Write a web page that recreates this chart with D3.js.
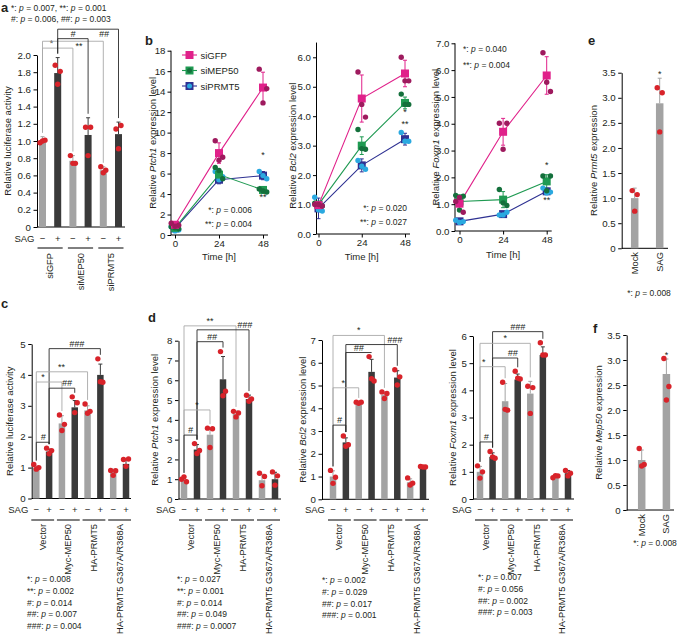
<!DOCTYPE html>
<html><head><meta charset="utf-8">
<script src="https://cdn.jsdelivr.net/npm/d3@7/dist/d3.min.js"></script>
<style>html,body{margin:0;padding:0;background:#fff;} svg{display:block}</style>
</head><body>
<script>
const FONT = "'Liberation Sans', Arial, Helvetica, sans-serif";
const LIGHT = "#a3a3a3", DARK = "#3a3a3a", RED = "#d8232a", BR_G = "#a9a9a9", BR_K = "#2a2a2a", INK = "#231f20";
const JIT = [-2.5, 2.5, 0];

// ---------- shared ----------
const SAG_SIGNS = ["−", "+", "−", "+", "−", "+", "−", "+"];
const TIMES = [0, 24, 48];
const CD_GROUPS = ["Vector", "Myc-MEP50", "HA-PRMT5", "HA-PRMT5 G367A/R368A"];

// ---------- panel a ----------
const aGroups = ["siGFP", "siMEP50", "siPRMT5"];
const aMeans = [1.00, 1.79, 0.77, 1.07, 0.66, 1.08];
const aSD = [0.05, 0.18, 0.06, 0.20, 0.04, 0.14];
const aPts = [[0.98, 1.01, 1.00], [1.88, 1.81, 1.66], [0.83, 0.74, 0.74], [1.16, 1.16, 0.83], [0.70, 0.66, 0.63], [1.14, 1.18, 0.91]];
const aTicks = [0, 0.2, 0.4, 0.6, 0.8, 1.0, 1.2, 1.4, 1.6, 1.8, 2.0];
const aBrackets = [
  {from: 0, to: 2, level: 2.08, label: "*", tone: "g", lx: 0.3, dy: -2},
  {from: 0, to: 4, level: 2.16, label: "**", tone: "g", lx: 0.6, dy: 8},
  {from: 1, to: 3, level: 2.19, label: "#", tone: "k", lx: 0.5, dy: -2},
  {from: 1, to: 5, level: 2.30, label: "##", tone: "k", lx: 0.76, dy: 8}
];
const aPText = [[["*", "0.007"], ["**", "0.001"]], [["#", "0.006"], ["##", "0.003"]]];

// ---------- panel b ----------
const bSeries = ["siGFP", "siMEP50", "siPRMT5"];
const ptch1GFP = [1.0, 8.0, 14.4], ptch1GFPsd = [0.25, 1.0, 1.5], ptch1GFPpts = [[1.15, 0.95, 0.85], [9.2, 7.6, 7.3], [16.2, 14.3, 12.9]];
const ptch1MEP = [0.7, 5.9, 4.4], ptch1MEPsd = [0.2, 0.5, 0.15], ptch1MEPpts = [[0.8, 0.6, 0.7], [6.6, 5.5, 6.3], [4.5, 4.2, 4.3]];
const ptch1PRM = [0.65, 5.4, 5.8], ptch1PRMsd = [0.2, 0.4, 0.4], ptch1PRMpts = [[0.8, 0.5, 0.4], [6.2, 5.7, 5.4], [6.2, 5.5, 5.8]];
const ptch1Ticks = [0, 2, 4, 6, 8, 10, 12, 14, 16, 18];
const ptch1Stars = [["*", 48, 7.5], ["**", 48, 3.4]];
const ptch1PText = [[["*", "0.006"]], [["**", "0.004"]]];

const bcl2GFP = [0.98, 4.6, 5.45], bcl2GFPsd = [0.1, 0.8, 0.45], bcl2GFPpts = [[1.0, 0.95, 1.0], [5.5, 3.97, 4.4], [6.0, 5.2, 5.2]];
const bcl2MEP = [1.0, 3.0, 4.45], bcl2MEPsd = [0.1, 0.3, 0.2], bcl2MEPpts = [[1.05, 0.95, 1.0], [3.55, 2.88, 2.9], [4.75, 4.4, 4.4]];
const bcl2PRM = [0.87, 2.33, 3.22], bcl2PRMsd = [0.35, 0.22, 0.2], bcl2PRMpts = [[1.25, 0.78, 0.82], [2.5, 2.2, 2.3], [3.45, 3.15, 3.15]];
const bcl2Ticks = [0, 1, 2, 3, 4, 5, 6];
const bcl2Stars = [["*", 48, 4.05], ["**", 48, 3.62]];
const bcl2PText = [[["*", "0.020"]], [["**", "0.027"]]];

const foxGFP = [1.02, 3.7, 5.8], foxGFPsd = [0.2, 0.5, 0.7], foxGFPpts = [[1.1, 0.7, 1.25], [4.02, 4.02, 3.05], [6.65, 5.2, 5.55]];
const foxMEP = [1.1, 1.17, 1.85], foxMEPsd = [0.25, 0.3, 0.25], foxMEPpts = [[1.33, 1.3, 0.78], [1.55, 0.95, 1.05], [2.05, 2.05, 1.5]];
const foxPRM = [0.36, 0.63, 1.48], foxPRMsd = [0.05, 0.05, 0.1], foxPRMpts = [[0.4, 0.35, 0.32], [0.6, 0.7, 0.6], [1.6, 1.45, 1.42]];
const foxTicks = [0, 1, 2, 3, 4, 5, 6, 7];
const foxStars = [["*", 48, 2.35], ["**", 48, 1.05]];
const foxPText = [[["*", "0.040"]], [["**", "0.004"]]];

// ---------- panel c ----------
const cMeans = [1.0, 1.52, 2.43, 2.95, 2.85, 4.0, 0.87, 1.12];
const cSD = [0.05, 0.08, 0.25, 0.22, 0.15, 0.35, 0.08, 0.14];
const cPts = [[1.1, 1.0, 0.95], [1.63, 1.55, 1.45], [2.7, 2.4, 2.2], [3.29, 3.1, 2.78], [3.06, 2.82, 2.76], [4.52, 3.76, 3.78], [0.91, 0.9, 0.75], [1.26, 1.28, 1.04]];
const cTicks = [0, 1, 2, 3, 4, 5];
const cBrackets = [
  {from: 1, to: 5, level: 4.85, label: "###", tone: "k", lx: 0.54},
  {from: 0, to: 4, level: 4.10, label: "**", tone: "g", lx: 0.49},
  {from: 0, to: 2, level: 3.77, label: "*", tone: "g", lx: 0.26},
  {from: 1, to: 3, level: 3.57, label: "##", tone: "k", lx: 0.7},
  {from: 0, to: 1, level: 1.82, label: "#", tone: "k", lx: 0.55}
];
const cPText = [[["*", "0.008"]], [["**", "0.002"]], [["#", "0.014"]], [["##", "0.007"]], [["###", "0.004"]]];

// ---------- panel d ----------
const dPtchMeans = [1.0, 2.5, 3.25, 6.05, 4.3, 5.05, 0.95, 1.0];
const dPtchSD = [0.1, 0.25, 0.3, 1.15, 0.15, 0.2, 0.3, 0.35];
const dPtchPts = [[1.0, 0.87, 1.12], [2.8, 2.45, 2.3], [3.58, 3.55, 2.6], [7.45, 5.45, 5.22], [4.43, 4.35, 4.15], [5.24, 5.05, 4.94], [1.3, 1.14, 0.67], [1.37, 1.17, 0.7]];
const dPtchTicks = [0, 1, 2, 3, 4, 5, 6, 7, 8];
const dPtchBrackets = [
  {from: 0, to: 4, level: 8.75, label: "**", tone: "g", lx: 0.5},
  {from: 1, to: 5, level: 8.55, label: "###", tone: "k", lx: 0.92},
  {from: 1, to: 3, level: 7.95, label: "##", tone: "k", lx: 0.58},
  {from: 0, to: 2, level: 4.5, label: "*", tone: "g", lx: 0.5},
  {from: 0, to: 1, level: 3.23, label: "#", tone: "k", lx: 0.5}
];
const dPtchPText = [[["*", "0.027"]], [["**", "0.001"]], [["#", "0.014"]], [["##", "0.049"]], [["###", "0.0007"]]];

const dBclMeans = [1.0, 2.5, 4.25, 5.6, 4.6, 5.35, 0.75, 1.4];
const dBclSD = [0.25, 0.2, 0.03, 0.55, 0.12, 0.3, 0.15, 0.03];
const dBclPts = [[1.27, 0.97, 0.7], [2.78, 2.4, 2.33], [4.27, 4.27, 4.22], [6.27, 5.2, 5.3], [4.72, 4.65, 4.43], [5.69, 5.38, 5.02], [0.94, 0.71, 0.63], [1.44, 1.42, 1.42]];
const dBclTicks = [0, 1, 2, 3, 4, 5, 6, 7];
const dBclBrackets = [
  {from: 0, to: 4, level: 7.2, label: "*", tone: "g", lx: 0.5},
  {from: 1, to: 5, level: 6.8, label: "###", tone: "k", lx: 0.95},
  {from: 1, to: 3, level: 6.45, label: "##", tone: "k", lx: 0.5},
  {from: 0, to: 2, level: 4.9, label: "*", tone: "g", lx: 0.4},
  {from: 0, to: 1, level: 3.26, label: "#", tone: "k", lx: 0.5}
];
const dBclPText = [[["*", "0.002"]], [["#", "0.029"]], [["##", "0.017"]], [["###", "0.001"]]];

const dFoxMeans = [1.0, 1.55, 3.6, 4.4, 3.88, 5.3, 0.82, 0.95];
const dFoxSD = [0.2, 0.15, 0.65, 0.2, 0.45, 0.3, 0.04, 0.1];
const dFoxPts = [[1.22, 1.0, 0.77], [1.75, 1.5, 1.55], [4.3, 3.27, 3.3], [4.7, 4.42, 4.45], [4.15, 4.1, 3.15], [5.75, 5.3, 5.3], [0.78, 0.85, 0.86], [1.05, 0.95, 0.85]];
const dFoxTicks = [0, 1, 2, 3, 4, 5, 6];
const dFoxBrackets = [
  {from: 1, to: 5, level: 6.16, label: "###", tone: "k", lx: 0.5},
  {from: 0, to: 4, level: 5.73, label: "*", tone: "g", lx: 0.5},
  {from: 1, to: 3, level: 5.19, label: "##", tone: "k", lx: 0.8},
  {from: 0, to: 2, level: 4.87, label: "*", tone: "g", lx: 0.15},
  {from: 0, to: 1, level: 2.1, label: "#", tone: "k", lx: 0.5}
];
const dFoxPText = [[["*", "0.007"]], [["#", "0.056"]], [["##", "0.002"]], [["###", "0.003"]]];

// ---------- panels e, f ----------
const efCats = ["Mock", "SAG"];
const eMeans = [1.0, 2.89], eSD = [0.2, 0.5], ePts = [[1.15, 1.07, 0.74], [3.2, 3.1, 2.32]];
const fMeans = [1.0, 2.72], fSD = [0.2, 0.3], fPts = [[1.23, 0.91, 0.88], [3.03, 2.47, 2.2]];
const efTicks = [0, 0.5, 1.0, 1.5, 2.0, 2.5, 3.0, 3.5];
const efPText = [[["*", "0.008"]]];

// =====================================================
const svg = d3.select("body").append("svg").attr("width", 679).attr("height", 636)
  .attr("font-family", FONT).attr("fill", INK);

function styleAxis(s) {
  s.select(".domain").attr("stroke", "#000").attr("stroke-width", 1);
  s.selectAll(".tick line").attr("stroke", "#000");
  s.selectAll(".tick text").attr("font-size", 9.7).attr("font-family", FONT).attr("fill", INK);
}
function yLabel(g, x, yc, parts, size) {
  const t = g.append("text").attr("transform", `translate(${x},${yc}) rotate(-90)`)
    .attr("text-anchor", "middle").attr("dominant-baseline", "central").attr("font-size", size || 9.5);
  parts.forEach(p => t.append("tspan").attr("font-style", p[1] ? "italic" : "normal").text(p[0]));
}
function pLines(g, x, y0, dy, lines, anchor, size) {
  lines.forEach((items, r) => {
    const t = g.append("text").attr("x", x).attr("y", y0 + r * dy).attr("font-size", size || 8.5)
      .attr("text-anchor", anchor || "start");
    items.forEach((it, i) => {
      if (i > 0) t.append("tspan").text(", ");
      t.append("tspan").text(it[0] + ": ");
      t.append("tspan").attr("font-style", "italic").text("p");
      t.append("tspan").text(" = " + it[1]);
    });
  });
}
function letter(x, y, s) {
  svg.append("text").attr("x", x).attr("y", y).attr("font-size", 13).attr("font-weight", "bold").text(s);
}

function barPanel(c) {
  const g = svg.append("g");
  const n = c.means.length, idx = d3.range(n);
  const y = d3.scaleLinear().domain([0, c.max]).range([c.bottom, c.top]);
  const x = d3.scaleLinear().domain([0, n - 1]).range([c.first, c.last]);
  const tone = i => c.tones ? c.tones[i] : (i % 2 ? DARK : LIGHT);
  g.append("g").attr("transform", `translate(${c.axisX},0)`)
    .call(d3.axisLeft(y).tickValues(c.ticks).tickFormat(c.fmt).tickSizeInner(3.5).tickSizeOuter(0).tickPadding(2.5))
    .call(styleAxis);
  g.append("line").attr("x1", c.axisX).attr("x2", c.axisEnd).attr("y1", y(0)).attr("y2", y(0)).attr("stroke", "#000");
  g.selectAll("rect.bar").data(idx).join("rect").attr("class", "bar")
    .attr("x", i => x(i) - c.bw / 2).attr("width", c.bw)
    .attr("y", i => y(c.means[i])).attr("height", i => y(0) - y(c.means[i])).attr("fill", tone);
  idx.forEach(i => {
    const yt = y(c.means[i] + c.sd[i]);
    g.append("line").attr("x1", x(i)).attr("x2", x(i)).attr("y1", y(c.means[i])).attr("y2", yt).attr("stroke", tone(i));
    g.append("line").attr("x1", x(i) - 2).attr("x2", x(i) + 2).attr("y1", yt).attr("y2", yt).attr("stroke", tone(i));
  });
  const tops = idx.map(i => y(Math.max(c.means[i] + c.sd[i], ...c.pts[i])) - 4);
  (c.brackets || []).forEach(b => {
    const ly = y(b.level), x1 = x(b.from), x2 = x(b.to);
    g.append("path").attr("d", `M${x1},${tops[b.from]}V${ly}H${x2}V${tops[b.to]}`)
      .attr("fill", "none").attr("stroke", b.tone === "k" ? BR_K : BR_G).attr("stroke-width", 0.9);
    g.append("text").attr("x", x1 + (x2 - x1) * b.lx).attr("y", ly + (b.dy === undefined ? -2 : b.dy))
      .attr("text-anchor", "middle").attr("font-size", 9)
      .attr("font-style", b.label[0] === "#" ? "italic" : "normal").text(b.label);
  });
  if (c.star) {
    const i = c.star;
    g.append("text").attr("x", x(i)).attr("y", y(Math.max(c.means[i] + c.sd[i], ...c.pts[i])) - 1)
      .attr("text-anchor", "middle").attr("font-size", 9).text("*");
  }
  idx.forEach(i => c.pts[i].forEach((v, k) =>
    g.append("circle").attr("cx", x(i) + JIT[k]).attr("cy", y(v)).attr("r", 2.7).attr("fill", RED)));
  if (c.sagY) {
    g.append("text").attr("x", x(0) - 8).attr("y", c.sagY).attr("text-anchor", "end").attr("font-size", 9.5).text("SAG");
    idx.forEach(i => g.append("text").attr("x", x(i)).attr("y", c.sagY).attr("text-anchor", "middle")
      .attr("font-size", 9.5).text(SAG_SIGNS[i]));
  }
  if (c.groups) {
    c.groups.forEach((name, k) => {
      const xa = x(2 * k), xb = x(2 * k + 1);
      g.append("line").attr("x1", xa - 5).attr("x2", xb + 5).attr("y1", c.groupLineY).attr("y2", c.groupLineY).attr("stroke", "#000");
      g.append("text").attr("transform", `translate(${(xa + xb) / 2},${c.groupLabelY}) rotate(-90)`)
        .attr("text-anchor", "end").attr("dominant-baseline", "central").attr("font-size", 9.3).text(name);
    });
  }
  if (c.cats) {
    c.cats.forEach((name, i) => g.append("text").attr("transform", `translate(${x(i)},${c.catY}) rotate(-90)`)
      .attr("text-anchor", "end").attr("dominant-baseline", "central").attr("font-size", 9.3).text(name));
  }
  yLabel(g, c.ylabelX, (c.top + c.bottom) / 2, c.ylabel);
  if (c.pText) pLines(g, c.pX, c.pY, c.pDy || 11.8, c.pText, c.pAnchor);
}

function linePanel(c) {
  const g = svg.append("g");
  const y = d3.scaleLinear().domain([0, c.max]).range([c.bottom, c.top]);
  const x = d3.scaleLinear().domain([0, 48]).range([c.x0, c.x48]);
  g.append("g").attr("transform", `translate(${c.axisX},0)`)
    .call(d3.axisLeft(y).tickValues(c.ticks).tickSizeInner(3.5).tickSizeOuter(0).tickPadding(2))
    .call(styleAxis).call(s => s.select(".domain").remove());
  g.append("line").attr("x1", c.axisX).attr("x2", c.axisX).attr("y1", y(0)).attr("y2", y(c.axisTop || c.max)).attr("stroke", "#000");
  g.append("g").attr("transform", `translate(0,${y(0)})`)
    .call(d3.axisBottom(x).tickValues(TIMES).tickSizeInner(3.5).tickSizeOuter(0).tickPadding(2))
    .call(styleAxis).call(s => s.select(".domain").remove());
  g.append("line").attr("x1", c.axisX).attr("x2", x(48) + 5).attr("y1", y(0)).attr("y2", y(0)).attr("stroke", "#000");
  g.append("text").attr("x", x(24)).attr("y", c.timeY).attr("text-anchor", "middle").attr("font-size", 9.5).text("Time [h]");
  yLabel(g, c.ylabelX, (c.top + c.bottom) / 2, c.ylabel);
  const order = [2, 1, 0];
  const line = d3.line().x((d, i) => x(TIMES[i])).y(d => y(d));
  order.forEach(s => {
    const S = c.series[s];
    g.append("path").attr("d", line(S.m)).attr("fill", "none").attr("stroke", S.col).attr("stroke-width", 1.1);
    S.m.forEach((v, i) => {
      const xx = x(TIMES[i]);
      g.append("line").attr("x1", xx).attr("x2", xx).attr("y1", y(v - S.sd[i])).attr("y2", y(v + S.sd[i])).attr("stroke", S.col);
      [v - S.sd[i], v + S.sd[i]].forEach(e => g.append("line").attr("x1", xx - 2).attr("x2", xx + 2).attr("y1", y(e)).attr("y2", y(e)).attr("stroke", S.col));
    });
  });
  order.forEach(s => {
    const S = c.series[s];
    S.m.forEach((v, i) => g.append("rect").attr("x", x(TIMES[i]) - 4).attr("y", y(v) - 4).attr("width", 8).attr("height", 8).attr("fill", S.col));
    S.pts.forEach((arr, i) => arr.forEach((v, k) => g.append("circle").attr("cx", x(TIMES[i]) + JIT[k] * 1.5).attr("cy", y(v)).attr("r", 2.7).attr("fill", S.dot)));
  });
  c.stars.forEach(st => g.append("text").attr("x", x(st[1])).attr("y", y(st[2])).attr("text-anchor", "middle").attr("font-size", 9).text(st[0]));
  pLines(g, c.pX, c.pY, c.pDy, c.pText, c.pAnchor);
  if (c.legend) {
    c.series.forEach((S, k) => {
      const ly = c.legendY + k * 15.5;
      g.append("line").attr("x1", c.legendX - 7.5).attr("x2", c.legendX + 7.5).attr("y1", ly).attr("y2", ly).attr("stroke", S.col).attr("stroke-width", 1.1);
      g.append("rect").attr("x", c.legendX - 4).attr("y", ly - 4).attr("width", 8).attr("height", 8).attr("fill", S.col);
      if (k > 0) g.append("circle").attr("cx", c.legendX).attr("cy", ly).attr("r", 2.5).attr("fill", S.dot);
      g.append("text").attr("x", c.legendX + 11).attr("y", ly).attr("dominant-baseline", "central").attr("font-size", 9.5).text(bSeries[k]);
    });
  }
}

const COL = {gfp: "#e0218a", gfpDot: "#9e1a5e", mep: "#1f9a52", mepDot: "#14703c", prm: "#2e3192", prmDot: "#2aa9e0"};
const mk = (m, sd, pts, col, dot) => ({m, sd, pts, col, dot});
const fmt1 = d => d === 0 ? "0" : d.toFixed(1);
const fmt0 = d => String(d);

// letters
letter(1, 12, "a"); letter(145, 45, "b"); letter(1, 308, "c"); letter(148, 322, "d"); letter(588, 45, "e"); letter(593, 333, "f");

// panel a
pLines(svg, 11, 11, 11, aPText, "start", 8.5);
barPanel({axisX: 37, top: 55, bottom: 227, max: 2.0, ticks: aTicks, fmt: fmt1, first: 42.5, last: 118.5, bw: 7, axisEnd: 125,
  means: aMeans, sd: aSD, pts: aPts, brackets: aBrackets, sagY: 242, groups: aGroups, groupLineY: 248, groupLabelY: 253,
  ylabel: [["Relative luciferase activity", false]], ylabelX: 7});

// panel b
linePanel({axisX: 171, x0: 175, x48: 263, top: 50.7, bottom: 235, max: 18, ticks: ptch1Ticks, timeY: 260, ylabelX: 152,
  ylabel: [["Relative ", false], ["Ptch1", true], [" expression level", false]],
  series: [mk(ptch1GFP, ptch1GFPsd, ptch1GFPpts, COL.gfp, COL.gfpDot), mk(ptch1MEP, ptch1MEPsd, ptch1MEPpts, COL.mep, COL.mepDot), mk(ptch1PRM, ptch1PRMsd, ptch1PRMpts, COL.prm, COL.prmDot)],
  stars: ptch1Stars, pText: ptch1PText, pX: 252, pY: 213, pDy: 14, pAnchor: "end", legend: true, legendX: 189.5, legendY: 55});
linePanel({axisX: 316.5, x0: 318.5, x48: 405, top: 57.3, bottom: 234, max: 6, axisTop: 6.5, ticks: bcl2Ticks, timeY: 260, ylabelX: 292,
  ylabel: [["Relative ", false], ["Bcl2", true], [" expression level", false]],
  series: [mk(bcl2GFP, bcl2GFPsd, bcl2GFPpts, COL.gfp, COL.gfpDot), mk(bcl2MEP, bcl2MEPsd, bcl2MEPpts, COL.mep, COL.mepDot), mk(bcl2PRM, bcl2PRMsd, bcl2PRMpts, COL.prm, COL.prmDot)],
  stars: bcl2Stars, pText: bcl2PText, pX: 407, pY: 211, pDy: 14, pAnchor: "end"});
linePanel({axisX: 455, x0: 459.5, x48: 546.7, top: 43.3, bottom: 231, max: 7, ticks: foxTicks, timeY: 258, ylabelX: 435,
  ylabel: [["Relative ", false], ["Foxm1", true], [" expression level", false]],
  series: [mk(foxGFP, foxGFPsd, foxGFPpts, COL.gfp, COL.gfpDot), mk(foxMEP, foxMEPsd, foxMEPpts, COL.mep, COL.mepDot), mk(foxPRM, foxPRMsd, foxPRMpts, COL.prm, COL.prmDot)],
  stars: foxStars, pText: foxPText, pX: 463, pY: 52, pDy: 16, pAnchor: "start"});

// panel c
barPanel({axisX: 31.7, top: 344, bottom: 498.5, max: 5, ticks: cTicks, fmt: fmt0, first: 36.3, last: 126, bw: 6.5, axisEnd: 131,
  means: cMeans, sd: cSD, pts: cPts, brackets: cBrackets, sagY: 513, groups: CD_GROUPS, groupLineY: 520, groupLabelY: 524,
  ylabel: [["Relative luciferase activity", false]], ylabelX: 9, pText: cPText, pX: 27, pY: 582});

// panel d
barPanel({axisX: 178.5, top: 340.7, bottom: 499, max: 8, ticks: dPtchTicks, fmt: fmt0, first: 184, last: 275, bw: 6.5, axisEnd: 281,
  means: dPtchMeans, sd: dPtchSD, pts: dPtchPts, brackets: dPtchBrackets, sagY: 513, groups: CD_GROUPS, groupLineY: 520, groupLabelY: 524,
  ylabel: [["Relative ", false], ["Ptch1", true], [" expression level", false]], ylabelX: 154, pText: dPtchPText, pX: 177, pY: 582});
barPanel({axisX: 322, top: 340, bottom: 499.3, max: 7, ticks: dBclTicks, fmt: fmt0, first: 333, last: 423, bw: 6.5, axisEnd: 429,
  means: dBclMeans, sd: dBclSD, pts: dBclPts, brackets: dBclBrackets, sagY: 513, groups: CD_GROUPS, groupLineY: 520, groupLabelY: 524,
  ylabel: [["Relative ", false], ["Bcl2", true], [" expression level", false]], ylabelX: 302, pText: dBclPText, pX: 322, pY: 583});
barPanel({axisX: 473, top: 336, bottom: 499, max: 6, ticks: dFoxTicks, fmt: fmt0, first: 480, last: 568, bw: 6.5, axisEnd: 574,
  means: dFoxMeans, sd: dFoxSD, pts: dFoxPts, brackets: dFoxBrackets, sagY: 513, groups: CD_GROUPS, groupLineY: 520, groupLabelY: 524,
  ylabel: [["Relative ", false], ["Foxm1", true], [" expression level", false]], ylabelX: 452, pText: dFoxPText, pX: 478, pY: 580});

// panel e, f
barPanel({axisX: 621.7, top: 72.7, bottom: 248.3, max: 3.5, ticks: efTicks, fmt: fmt1, first: 634.7, last: 659.7, bw: 7.5, axisEnd: 668,
  means: eMeans, sd: eSD, pts: ePts, tones: [LIGHT, LIGHT], star: 1, cats: efCats, catY: 252,
  ylabel: [["Relative ", false], ["Prmt5", true], [" expression", false]], ylabelX: 593, pText: efPText, pX: 649, pY: 296, pAnchor: "middle"});
barPanel({axisX: 626.7, top: 335, bottom: 510, max: 3.5, ticks: efTicks, fmt: fmt1, first: 641.7, last: 666.4, bw: 7.5, axisEnd: 674,
  means: fMeans, sd: fSD, pts: fPts, tones: [LIGHT, LIGHT], star: 1, cats: efCats, catY: 514,
  ylabel: [["Relative ", false], ["Mep50", true], [" expression", false]], ylabelX: 598, pText: efPText, pX: 655, pY: 546, pAnchor: "middle"});
</script>
</body></html>
